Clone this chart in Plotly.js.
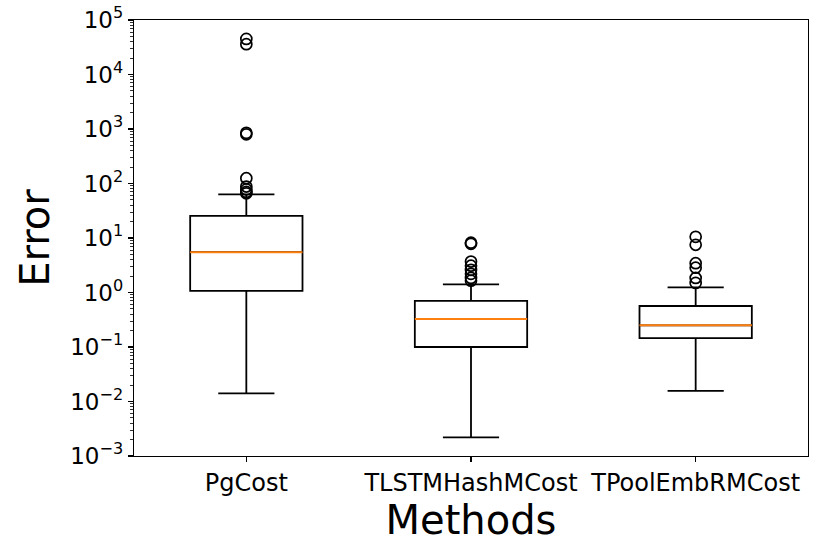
<!DOCTYPE html>
<html>
<head>
<meta charset="utf-8">
<script src="https://cdn.plot.ly/plotly-3.0.1.min.js"></script>
<style>
  html, body { margin: 0; padding: 0; background: #fff; }
  #chart { width: 830px; height: 557px; }
</style>
</head>
<body>
<div id="chart"></div>
<script>
// values
var methods = ['PgCost', 'TLSTMHashMCost', 'TPoolEmbRMCost'];
var q1 = [1.07, 0.10, 0.146];
var medians = [5.5, 0.327, 0.25];
var q3 = [25.5, 0.70, 0.565];
var lowWhisker = [0.0141, 0.0022, 0.0156];
var highWhisker = [63, 1.41, 1.24];
var pgOutliers = [45000, 36000, 850, 800, 125, 88, 78, 70, 66];
var tlstmOutliers = [8.2, 7.8, 3.7, 3.1, 2.6, 2.2, 1.85, 1.65];
var tpoolOutliers = [10.5, 7.5, 3.45, 2.85, 1.85, 1.5];
var yTickVals = [1e-3, 1e-2, 1e-1, 1e0, 1e1, 1e2, 1e3, 1e4, 1e5];
var yTickText = ['10<sup>\u22123</sup>', '10<sup>\u22122</sup>', '10<sup>\u22121</sup>', '10<sup>0</sup>',
                 '10<sup>1</sup>', '10<sup>2</sup>', '10<sup>3</sup>', '10<sup>4</sup>', '10<sup>5</sup>'];

var outlierX = [], outlierY = [];
[pgOutliers, tlstmOutliers, tpoolOutliers].forEach(function(list, i) {
  list.forEach(function(v) {
    outlierX.push(methods[i]);
    outlierY.push(v);
  });
});

var boxTrace = {
  type: 'box',
  x: methods,
  q1: q1,
  median: medians,
  q3: q3,
  lowerfence: lowWhisker,
  upperfence: highWhisker,
  width: 0.5,
  whiskerwidth: 0.5,
  line: {color: '#000000', width: 1.8},
  fillcolor: '#ffffff',
  boxpoints: false,
  hoverinfo: 'skip',
  showlegend: false
};

// orange median line drawn as a flat box on top
var medianTrace = {
  type: 'box',
  x: methods,
  q1: medians,
  median: medians,
  q3: medians,
  lowerfence: medians,
  upperfence: medians,
  width: 0.5,
  whiskerwidth: 0,
  line: {color: '#ff7f0e', width: 2},
  fillcolor: 'rgba(0,0,0,0)',
  boxpoints: false,
  hoverinfo: 'skip',
  showlegend: false
};

var outlierTrace = {
  type: 'scatter',
  mode: 'markers',
  x: outlierX,
  y: outlierY,
  marker: {symbol: 'circle-open', size: 11, color: '#000000', line: {width: 1.7, color: '#000000'}},
  hoverinfo: 'skip',
  showlegend: false
};

var layout = {
  width: 830,
  height: 557,
  margin: {l: 134, r: 22, t: 20, b: 101},
  paper_bgcolor: '#ffffff',
  plot_bgcolor: '#ffffff',
  font: {family: 'DejaVu Sans', color: '#000000'},
  boxmode: 'overlay',
  showlegend: false,
  xaxis: {
    type: 'category',
    range: [-0.5, 2.5],
    showgrid: false,
    zeroline: false,
    showline: true,
    linecolor: '#000000',
    linewidth: 1.2,
    mirror: true,
    ticks: 'outside',
    ticklen: 5,
    tickwidth: 1.2,
    tickcolor: '#000000',
    tickfont: {size: 24},
    title: {text: 'Methods', font: {size: 40}, standoff: 6}
  },
  yaxis: {
    type: 'log',
    range: [-3, 5],
    showgrid: false,
    zeroline: false,
    showline: true,
    linecolor: '#000000',
    linewidth: 1.2,
    mirror: true,
    ticks: 'outside',
    ticklen: 5,
    tickwidth: 1.2,
    tickcolor: '#000000',
    tickmode: 'array',
    tickvals: yTickVals,
    ticktext: yTickText,
    tickfont: {size: 23},
    minor: {ticks: 'outside', ticklen: 2.5, tickwidth: 0.8, tickcolor: '#000000', dtick: 'D1', showgrid: false},
    title: {text: 'Error', font: {size: 40}, standoff: 8}
  }
};

Plotly.newPlot('chart', [boxTrace, medianTrace, outlierTrace], layout, {displayModeBar: false, staticPlot: true});
</script>
</body>
</html>
